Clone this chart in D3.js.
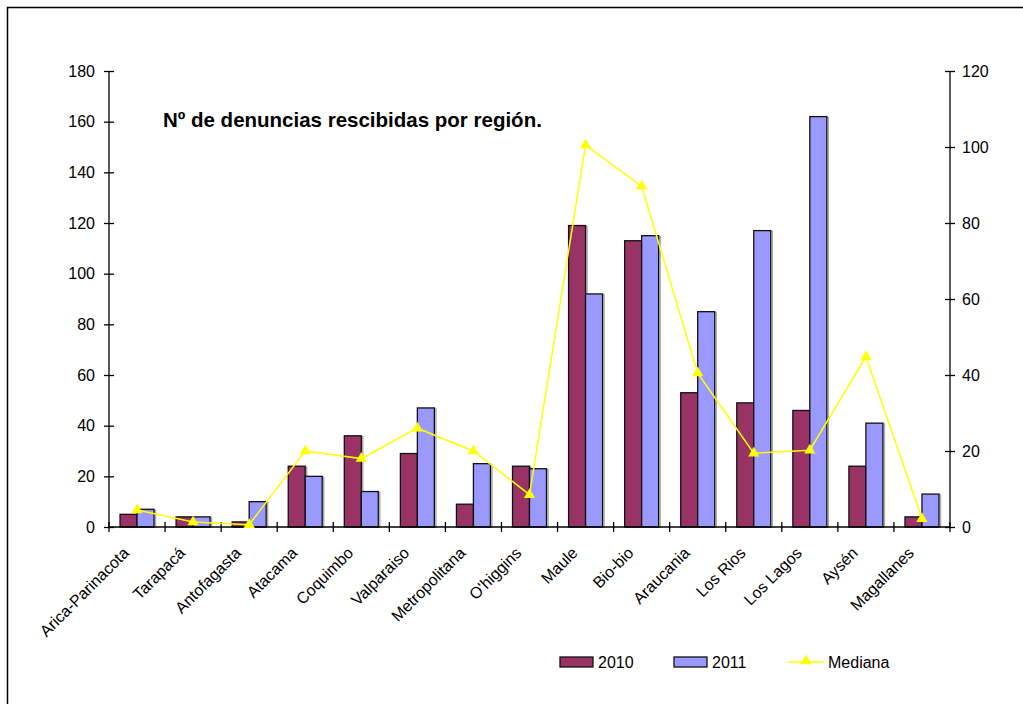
<!DOCTYPE html>
<html>
<head>
<meta charset="utf-8">
<script src="https://cdn.jsdelivr.net/npm/d3@7"></script>
<style>
  body { margin: 0; background: #fff; }
  text { font-family: Arial, "Liberation Sans", sans-serif; fill: #000; }
</style>
</head>
<body>
<div id="chart-area"></div>
<script>
// data
const regions = ["Arica-Parinacota", "Tarapacá", "Antofagasta", "Atacama", "Coquimbo",
    "Valparaiso", "Metropolitana", "O'higgins", "Maule", "Bio-bio", "Araucania",
    "Los Rios", "Los Lagos", "Aysén", "Magallanes"]
const values2010 = [5, 4, 2, 24, 36, 29, 9, 24, 119, 113, 53, 49, 46, 24, 4]
const values2011 = [7, 4, 10, 20, 14, 47, 25, 23, 92, 115, 85, 117, 162, 41, 13]
const mediana = [4.5, 1.3, 0.6, 20, 18, 26, 20, 8.5, 100.5, 89.7, 40.5, 19.4, 20.2, 44.8, 2.2]
const seriesNames = ["2010", "2011"]
const leftTicks = [0, 20, 40, 60, 80, 100, 120, 140, 160, 180]
const rightTicks = [0, 20, 40, 60, 80, 100, 120]

const COLORS = {"2010": "#993366", "2011": "#9999FF", mediana: "#FFFF00"}
const W = 1023, H = 704
const MARGIN = {LEFT: 109, RIGHT: 73, TOP: 71, BOTTOM: 177}
const WIDTH = W - MARGIN.LEFT - MARGIN.RIGHT
const HEIGHT = H - MARGIN.TOP - MARGIN.BOTTOM
const FONT = "16px"

let svg = d3.select("#chart-area").append("svg")
    .attr("width", W)
    .attr("height", H)

// outer frame (runs off the right/bottom edge)
svg.append("rect")
    .attr("x", 7.5).attr("y", 7.5)
    .attr("width", W + 10).attr("height", H + 10)
    .attr("fill", "none")
    .attr("stroke", "#000")
    .attr("stroke-width", 1.5)

let g = svg.append("g")
    .attr("transform", `translate(${MARGIN.LEFT}, ${MARGIN.TOP})`)

let x = d3.scaleBand()
    .domain(regions)
    .range([0, WIDTH])
    .padding(0)

let xs = d3.scaleBand()
    .domain(seriesNames)
    .range([0, x.bandwidth()])
    .paddingInner(0)
    .paddingOuter(0.65)

let yLeft = d3.scaleLinear().domain([0, 180]).range([HEIGHT, 0])
let yRight = d3.scaleLinear().domain([0, 120]).range([HEIGHT, 0])

// left axis
let yAxisLeft = g.append("g")
    .attr("class", "y axis")
    .call(d3.axisLeft(yLeft).tickValues(leftTicks).tickSize(5).tickPadding(9))
yAxisLeft.selectAll(".tick line").attr("x2", -5).attr("x1", 5)
yAxisLeft.select(".domain").attr("d", `M0,0V${HEIGHT}`)

// right axis
let yAxisRight = g.append("g")
    .attr("class", "y axis")
    .attr("transform", `translate(${WIDTH}, 0)`)
    .call(d3.axisRight(yRight).tickValues(rightTicks).tickSize(5).tickPadding(7))
yAxisRight.selectAll(".tick line").attr("x1", -5).attr("x2", 5)
yAxisRight.select(".domain").attr("d", `M0,0V${HEIGHT}`)

g.selectAll(".y.axis").attr("font-size", FONT).attr("font-family", null)
g.selectAll(".y.axis line, .y.axis path").attr("stroke", "#000").attr("stroke-width", 1.3)

// bars
let rows = []
regions.forEach((r, i) => {
    rows.push({region: r, series: "2010", value: values2010[i]})
    rows.push({region: r, series: "2011", value: values2011[i]})
})

// faint grey shadow behind bars
g.selectAll("rect.shadow")
    .data(rows)
    .enter().append("rect")
    .attr("class", "shadow")
    .attr("x", d => x(d.region) + xs(d.series) + 1.5)
    .attr("y", d => yLeft(d.value) + 1)
    .attr("width", xs.bandwidth())
    .attr("height", d => HEIGHT - yLeft(d.value) - 1)
    .attr("fill", "none")
    .attr("stroke", "#aaa")
    .attr("stroke-width", 1.5)

g.selectAll("rect.bar")
    .data(rows)
    .enter().append("rect")
    .attr("class", "bar")
    .attr("x", d => x(d.region) + xs(d.series))
    .attr("y", d => yLeft(d.value))
    .attr("width", xs.bandwidth())
    .attr("height", d => HEIGHT - yLeft(d.value))
    .attr("fill", d => COLORS[d.series])
    .attr("stroke", "#111")
    .attr("stroke-width", 1.3)

// x axis: ticks at category boundaries
let xAxis = g.append("g")
    .attr("class", "x axis")
    .attr("transform", `translate(0, ${HEIGHT})`)
xAxis.append("line")
    .attr("x1", 0).attr("x2", WIDTH)
    .attr("stroke", "#000").attr("stroke-width", 1.3)
let boundaries = regions.map(r => x(r)).concat([WIDTH])
xAxis.selectAll("line.tick")
    .data(boundaries)
    .enter().append("line")
    .attr("class", "tick")
    .attr("x1", d => d).attr("x2", d => d)
    .attr("y1", -5).attr("y2", 5)
    .attr("stroke", "#000").attr("stroke-width", 1.3)

xAxis.selectAll("text")
    .data(regions)
    .enter().append("text")
    .attr("transform", d => `translate(${x(d) + x.bandwidth() / 2 - 7}, 27) rotate(-45)`)
    .attr("text-anchor", "end")
    .attr("font-size", FONT)
    .text(d => d)

// mediana line
let medPts = regions.map((r, i) => [x(r) + x.bandwidth() / 2, yRight(mediana[i])])
g.append("path")
    .attr("d", d3.line()(medPts))
    .attr("fill", "none")
    .attr("stroke", COLORS.mediana)
    .attr("stroke-width", 1.5)

let tri = d3.symbol().type(d3.symbolTriangle).size(55)
g.selectAll("path.marker")
    .data(medPts)
    .enter().append("path")
    .attr("class", "marker")
    .attr("transform", d => `translate(${d[0]}, ${d[1]})`)
    .attr("d", tri)
    .attr("fill", COLORS.mediana)

// title
svg.append("text")
    .attr("x", 163)
    .attr("y", 127)
    .attr("font-size", "20.5px")
    .attr("font-weight", "bold")
    .text("Nº de denuncias rescibidas por región.")

// legend
let legend = svg.append("g").attr("class", "legend")
let legendItems = [
    {name: "2010", x: 560},
    {name: "2011", x: 674}
]
legendItems.forEach(it => {
    legend.append("rect")
        .attr("x", it.x).attr("y", 657)
        .attr("width", 33).attr("height", 10)
        .attr("fill", COLORS[it.name])
        .attr("stroke", "#111").attr("stroke-width", 1.3)
    legend.append("text")
        .attr("x", it.x + 38).attr("y", 668)
        .attr("font-size", FONT)
        .text(it.name)
})
legend.append("line")
    .attr("x1", 788).attr("x2", 824)
    .attr("y1", 662).attr("y2", 662)
    .attr("stroke", COLORS.mediana).attr("stroke-width", 1.5)
legend.append("path")
    .attr("transform", "translate(806, 661)")
    .attr("d", tri)
    .attr("fill", COLORS.mediana)
legend.append("text")
    .attr("x", 828).attr("y", 668)
    .attr("font-size", FONT)
    .text("Mediana")
</script>
</body>
</html>
